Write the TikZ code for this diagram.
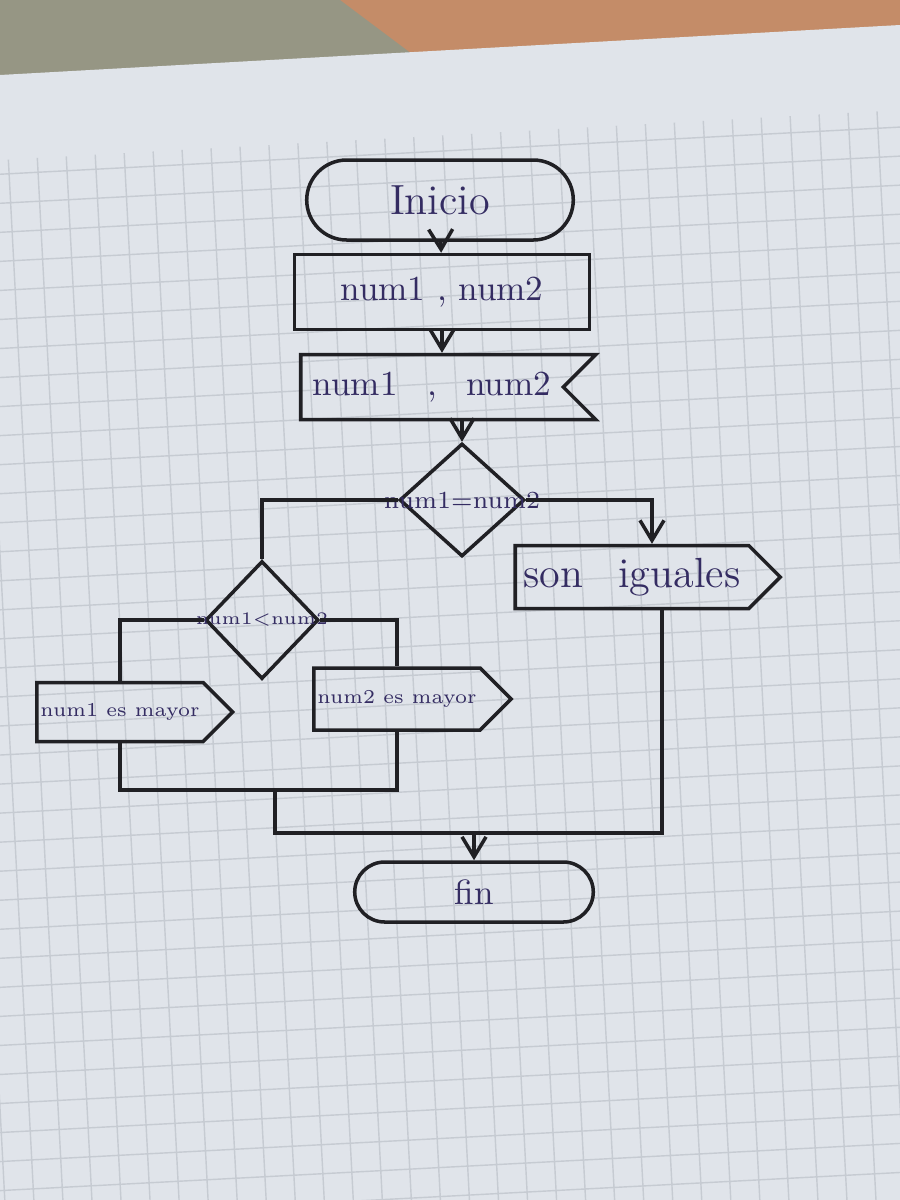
\documentclass[tikz,border=0pt]{standalone}
\usepackage{xcolor}
\usepackage{tikz}
\usetikzlibrary{shapes.misc, shapes.symbols, shapes.geometric, positioning, calc, arrows.meta}
\definecolor{tinta}{RGB}{52, 44, 98}
\definecolor{trazo}{RGB}{32, 32, 36}
\definecolor{papel}{RGB}{224, 228, 234}
\definecolor{cuadro}{RGB}{198, 203, 210}
\definecolor{telagris}{RGB}{150, 150, 132}
\definecolor{telanaranja}{RGB}{196, 140, 104}
\tikzset{
    terminal/.style={
        rounded rectangle, draw=trazo, line width=1pt, text=tinta
    },
    entrada/.style={
        rectangle, draw=trazo, line width=1pt, text=tinta
    },
    pantalla/.style={
        signal, signal to=nowhere, signal from=east, draw=trazo,
        line width=1pt, text=tinta, inner xsep=2pt
    },
    salida/.style={
        signal, signal to=east, draw=trazo, line width=1pt, text=tinta,
        inner xsep=1pt
    },
    decision/.style={
        diamond, draw=trazo, line width=1pt, inner sep=0pt
    },
    flecha/.style={
        -{Straight Barb[length=2mm, width=2.4mm]}, line width=1pt, trazo
    },
    linea/.style={
        line width=1pt, trazo
    }
}

\begin{document}
\begin{tikzpicture}
        \useasboundingbox (0,0) rectangle (9,-12);

        % ==========================================
        % FONDO: TELA Y HOJA CUADRICULADA
        % ==========================================
        \fill[telanaranja] (0,0) rectangle (9,-1.2);
        \fill[telagris] (0,0) -- (3.4,0) -- (4.2,-0.6) -- (0,-0.8) -- cycle;
        \fill[papel] (0,-0.75) -- (9,-0.25) -- (9,-12) -- (0,-12) -- cycle;
        \begin{scope}
            \clip (0,-1.6) -- (9,-1.1) -- (9,-12) -- (0,-12) -- cycle;
            \draw[cuadro, line width=0.4pt, rotate=3] (-1,-13) grid[step=0.29] (10,0);
        \end{scope}

        % ==========================================
        % NODOS DEL DIAGRAMA
        % ==========================================
        \node[terminal, minimum width=2.9cm, minimum height=0.8cm, font=\large] (inicio) at (4.40,-2.00) {Inicio};

        \node[entrada, minimum width=2.95cm, minimum height=0.75cm] (leer) at (4.42,-2.92) {num1 , num2};

        \node[pantalla, minimum width=2.95cm, minimum height=0.65cm] (mostrar) at (4.32,-3.87) {num1 \enspace , \enspace num2};

        % Primera decision
        \node[decision, minimum width=1.25cm, minimum height=1.13cm,
            label={[text=tinta, font=\scriptsize]center:num1=num2}] (dec1) at (4.62,-5.00) {};

        \node[salida, minimum width=2.65cm, minimum height=0.63cm, font=\large] (iguales) at (6.32,-5.77) {son \enspace iguales};

        % Segunda decision
        \node[decision, minimum width=1.13cm, minimum height=1.18cm,
            label={[text=tinta, font=\tiny]center:num1<num2}] (dec2) at (2.62,-6.20) {};

        \node[salida, minimum width=1.5cm, minimum height=0.59cm, font=\fontsize{5.6}{7}\selectfont] (mayor1) at (1.20,-7.12) {num1 es mayor};
        \node[salida, minimum width=1.5cm, minimum height=0.62cm, font=\fontsize{5.6}{7}\selectfont] (mayor2) at (3.97,-6.99) {num2 es mayor};

        \node[terminal, minimum width=2.62cm, minimum height=0.6cm] (fin) at (4.74,-8.92) {fin};

        % Puntos de union
        \coordinate (union1) at (2.75,-7.90);
        \coordinate (union2) at (4.74,-8.33);

        % ==========================================
        % CONECTORES
        % ==========================================
        \draw[flecha] (inicio) -- (leer);
        \draw[flecha] (leer.south) -- (leer.south |- mostrar.north);
        \draw[flecha] (dec1.north |- mostrar.south) -- (dec1.north);

        \draw[linea] (dec1.west) -| (dec2.north);
        \draw[flecha] (dec1.east) -| ($(iguales.north)+(0.2,0)$);

        \draw[linea] (dec2.west) -| (mayor1.north);
        \draw[linea] (dec2.east) -| (mayor2.north);

        \draw[linea] (mayor1.south) |- (union1);
        \draw[linea] (mayor2.south) |- (union1);
        \draw[linea] (union1) |- (union2);
        \draw[linea] ($(iguales.south)+(0.3,0)$) |- (union2);
        \draw[flecha] (union2) -- (fin);

    \end{tikzpicture}
\end{document}
